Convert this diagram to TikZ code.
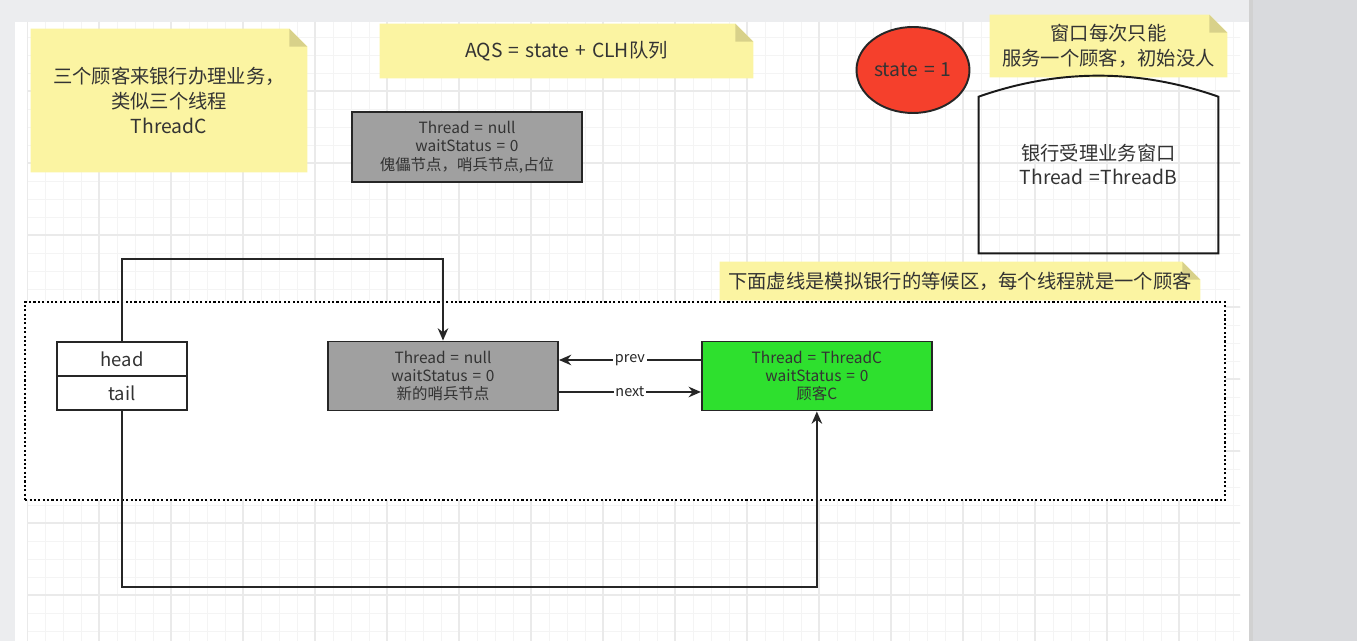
\documentclass[tikz,border=0pt]{standalone}
\usepackage{fontspec}
\newfontfamily\cjk[WordSpace={1.4}]{Noto Sans CJK SC}
\usetikzlibrary{arrows.meta,positioning,backgrounds,shapes.geometric}

\definecolor{notaamarela}{HTML}{FBF4A2}
\definecolor{dobra}{HTML}{D8D18A}
\definecolor{cinza}{HTML}{A0A0A0}
\definecolor{verde}{HTML}{2EE02E}
\definecolor{vermelho}{HTML}{F5402C}
\definecolor{texto}{HTML}{333333}
\definecolor{fundo}{HTML}{ECEDEF}
\definecolor{painel}{HTML}{D9DADD}
\definecolor{grade}{HTML}{F4F4F4}
\definecolor{gradeforte}{HTML}{EAEAEA}

\begin{document}
\begin{tikzpicture}[
	x=0.02cm, y=-0.02cm,
	font=\cjk, text=texto,
	>={Stealth[length=7pt,width=6pt]},
	nota/.style={inner sep=0pt, align=center, font=\cjk\fontsize{11}{14}\selectfont},
	caixa/.style={rectangle, draw=black!85, line width=1.1pt, align=center, minimum width=4.6cm, minimum height=1.38cm, font=\cjk\fontsize{8.8}{10.5}\selectfont},
	campo/.style={rectangle, draw=black!85, line width=1.1pt, fill=white, outer sep=0pt, minimum width=2.6cm, minimum height=0.68cm, font=\cjk\fontsize{10.5}{12}\selectfont},
	estado/.style={ellipse, draw=black!85, line width=1.1pt, fill=vermelho, inner sep=0pt, minimum width=2.26cm, minimum height=1.72cm, font=\cjk\fontsize{11}{12}\selectfont},
	espera/.style={rectangle, draw=black, line width=1.2pt, dash pattern=on 1.2pt off 1.3pt, fill=white, minimum width=24cm, minimum height=3.96cm},
	seta/.style={->, line width=1.1pt, black!85},
	rot/.style={fill=white, inner sep=1pt, font=\cjk\fontsize{8.2}{9}\selectfont},
]
\useasboundingbox (0,0) rectangle (1357,641);
% fundo e grade
\begin{scope}[on background layer]
	\fill[fundo] (0,0) rectangle (1357,641);
	\fill[white] (15,22) rectangle (1250,641);
	\begin{scope}
		\clip (27,22) rectangle (1240,641);
		\foreach \g in {27,45,...,1245} \draw[grade, line width=0.5pt] (\g,22) -- (\g,641);
		\foreach \g in {19,37,...,641} \draw[grade, line width=0.5pt] (15,\g) -- (1250,\g);
		\foreach \g in {27,99,...,1245} \draw[gradeforte, line width=0.6pt] (\g,22) -- (\g,641);
		\foreach \g in {19,91,...,641} \draw[gradeforte, line width=0.6pt] (15,\g) -- (1250,\g);
	\end{scope}
	\fill[painel] (1250,0) rectangle (1357,641);
	\draw[black!18, line width=2pt] (1251,0) -- (1251,641);
\end{scope}
% notas
\node[nota, minimum width=5.52cm, minimum height=2.86cm] (n1) at (169,100.5) {三个顾客来银行办理业务，\\类似三个线程\\ThreadC};
\node[nota, minimum width=7.46cm, minimum height=1.08cm] (n2) at (566.5,51) {AQS = state + CLH队列};
\node[nota, minimum width=4.74cm, minimum height=1.24cm] (n3) at (1108.5,46) {窗口每次只能\\服务一个顾客，初始没人};
\node[nota, minimum width=9.6cm, minimum height=0.76cm] (n4) at (960,281) {下面虚线是模拟银行的等候区，每个线程就是一个顾客};
% topo: sentinela inicial, state, janela
\node[caixa, fill=cinza, minimum height=1.4cm] (dummy) at (467,147) {Thread = null\\waitStatus = 0\\傀儡节点，哨兵节点,占位};
\node[estado] (st) at (913,70) {state = 1};
\node[nota, minimum width=4.78cm, minimum height=3.54cm] (jan) at (1098.5,164.5) {银行受理业务窗口\\Thread =ThreadB};
\draw[line width=1.1pt, black!90] (jan.south west) -- ([yshift=-0.42cm]jan.north west)
	.. controls ([xshift=-0.8cm,yshift=0.14cm]jan.north) and ([xshift=0.8cm,yshift=0.14cm]jan.north) .. ([yshift=-0.42cm]jan.north east)
	-- (jan.south east) -- cycle;
% area de espera
\node[espera] (wait) at (625,401) {};
\node[campo] (head) at (122,359) {head};
\node[campo] (tail) [below=0pt of head] {tail};
\node[caixa, fill=cinza] (sent) at (443,376) {Thread = null\\waitStatus = 0\\新的哨兵节点};
\node[caixa, fill=verde] (custC) [right=2.84cm of sent] {Thread = ThreadC\\waitStatus = 0\\顾客C};
\draw[seta] ([yshift=0.32cm]custC.west) -- node[rot] {prev} ([yshift=0.32cm]sent.east);
\draw[seta] ([yshift=-0.32cm]sent.east) -- node[rot] {next} ([yshift=-0.32cm]custC.west);
\draw[seta] (head.north) -- ++(0,1.66cm) -| (sent.north);
\draw[seta] (tail.south) -- ++(0,-3.54cm) -| (custC.south);
% fundo das notas com dobra
\begin{scope}[on background layer]
	\foreach \n in {n1,n2,n3,n4} {
		\fill[notaamarela] (\n.south west) -- (\n.north west) -- ([xshift=-0.36cm]\n.north east) -- ([yshift=-0.36cm]\n.north east) -- (\n.south east) -- cycle;
		\fill[dobra] ([xshift=-0.36cm]\n.north east) -- ([xshift=-0.36cm,yshift=-0.36cm]\n.north east) -- ([yshift=-0.36cm]\n.north east) -- cycle;
	}
\end{scope}
\end{tikzpicture}
\end{document}
